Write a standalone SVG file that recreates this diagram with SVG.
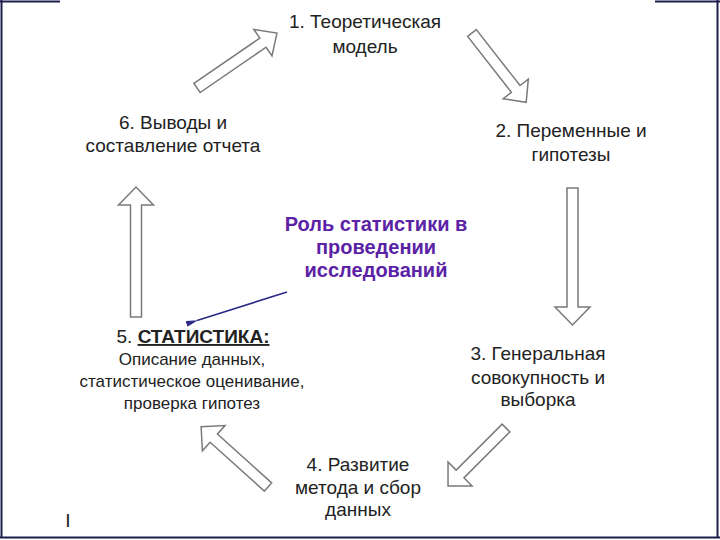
<svg xmlns="http://www.w3.org/2000/svg" width="720" height="540" viewBox="0 0 720 540">
<style>
.t{font-family:"Liberation Sans",Arial,sans-serif;font-size:19px;fill:#222;text-anchor:middle}
.s{font-size:17px}
.p{font-family:"Liberation Sans",Arial,sans-serif;font-size:20px;font-weight:bold;fill:#5b22a6;text-anchor:middle}
.ba{fill:#fff;stroke:#7a7a7a;stroke-width:1.5;stroke-linejoin:miter}
.frame{stroke:#1e1e4e;stroke-width:2;fill:none}
</style>
<defs>
<marker id="ah" viewBox="0 0 12 6" refX="1" refY="3" markerWidth="12" markerHeight="6" markerUnits="userSpaceOnUse" orient="auto-start-reverse">
<path d="M0,3 L12,0 L12,6 Z" fill="#2e2a86"/>
</marker>
</defs>
<rect width="720" height="540" fill="#fff"/>
<g id="frame">
<path class="frame" d="M1.5,0 V537.5 M0,537.5 H720 M717.5,0 V537.5 M0,1.5 H60 M655,1.5 H720"/>
</g>
<g id="connectors">
<path class="ba" transform="translate(197,88) rotate(-34.5)" d="M0,-5.5 H80 V-16 L97,0 L80,16 V5.5 H0 Z"/>
<path class="ba" transform="translate(472,33) rotate(52)" d="M0,-5.5 H71 V-16 L88,0 L71,16 V5.5 H0 Z"/>
<path class="ba" transform="translate(572.5,188) rotate(90)" d="M0,-5.5 H119 V-17.5 L137,0 L119,17.5 V5.5 H0 Z"/>
<path class="ba" transform="translate(506,428) rotate(135)" d="M0,-5.5 H65 V-17 L82,0 L65,17 V5.5 H0 Z"/>
<path class="ba" transform="translate(268,487) rotate(-138)" d="M0,-5.5 H73 V-17 L90,0 L73,17 V5.5 H0 Z"/>
<path class="ba" transform="translate(136,317) rotate(-90)" d="M0,-5.5 H112 V-17.5 L130,0 L112,17.5 V5.5 H0 Z"/>
<line x1="287" y1="292" x2="197" y2="320.5" stroke="#2e2a86" stroke-width="1.6" marker-end="url(#ah)"/>
</g>
<g id="n1">
<text class="t" x="365" y="28">1. Теоретическая</text>
<text class="t" x="365" y="53">модель</text>
</g>
<g id="n2">
<text class="t" x="571" y="137">2. Переменные и</text>
<text class="t" x="571" y="161">гипотезы</text>
</g>
<g id="n3">
<text class="t" x="538" y="360">3. Генеральная</text>
<text class="t" x="538" y="384">совокупность и</text>
<text class="t" x="538" y="406">выборка</text>
</g>
<g id="n4">
<text class="t" x="358" y="471">4. Развитие</text>
<text class="t" x="358" y="494">метода и сбор</text>
<text class="t" x="358" y="516">данных</text>
</g>
<g id="n5">
<text class="t" x="193" y="343" font-size="18">5. <tspan font-weight="bold" text-decoration="underline">СТАТИСТИКА:</tspan></text>
<text class="t s" x="192" y="365">Описание данных,</text>
<text class="t s" x="192" y="387">статистическое оценивание,</text>
<text class="t s" x="192" y="409">проверка гипотез</text>
</g>
<g id="n6">
<text class="t" x="173" y="129">6. Выводы и</text>
<text class="t" x="173" y="152">составление отчета</text>
</g>
<g id="role">
<text class="p" x="376" y="231">Роль статистики в</text>
<text class="p" x="376" y="254">проведении</text>
<text class="p" x="376" y="277">исследований</text>
</g>
<g id="mark">
<text class="t" x="68" y="527">I</text>
</g>
</svg>
